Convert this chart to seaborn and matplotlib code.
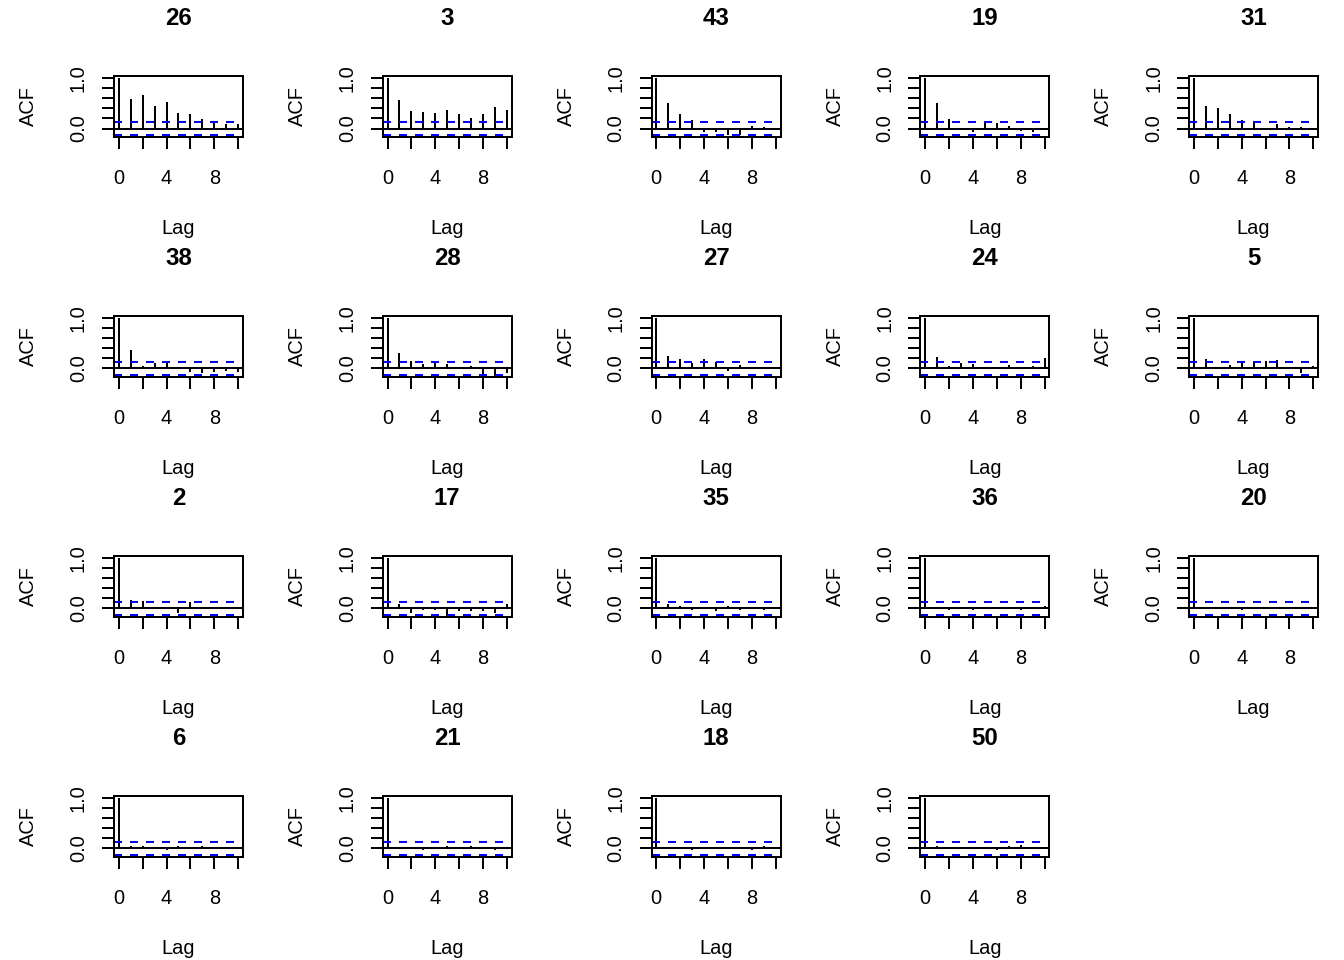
import pandas as pd
import matplotlib.pyplot as plt
import seaborn as sns

# Datos: autocorrelaciones por serie (lag 0..10)
lags = list(range(11))
limite_ic = 0.135

orden_paneles = ["26", "3", "43", "19", "31", "38", "28", "27", "24", "5",
                 "2", "17", "35", "36", "20", "6", "21", "18", "50"]

acf_26 = [1.0, 0.59, 0.66, 0.44, 0.52, 0.31, 0.29, 0.19, 0.10, 0.09, 0.09]
acf_3 = [1.0, 0.56, 0.34, 0.32, 0.31, 0.36, 0.29, 0.21, 0.29, 0.42, 0.36]
acf_43 = [1.0, 0.50, 0.29, 0.17, -0.06, -0.06, -0.12, -0.12, 0.05, 0.03, 0.01]
acf_19 = [1.0, 0.50, 0.19, 0.0, -0.06, 0.13, 0.11, 0.05, -0.04, -0.06, 0.0]
acf_31 = [1.0, 0.44, 0.40, 0.29, 0.17, 0.11, 0.0, 0.09, 0.03, 0.03, 0.0]
acf_38 = [1.0, 0.36, 0.05, 0.11, 0.13, 0.0, -0.06, -0.08, -0.06, -0.04, -0.06]
acf_28 = [1.0, 0.31, 0.15, 0.09, 0.11, 0.09, 0.03, 0.05, -0.10, -0.14, -0.08]
acf_27 = [1.0, 0.25, 0.19, 0.11, 0.19, 0.13, -0.04, 0.07, 0.03, 0.0, 0.03]
acf_24 = [1.0, 0.23, 0.05, 0.11, 0.09, 0.0, 0.0, 0.07, 0.0, 0.05, 0.21]
acf_5 = [1.0, 0.19, 0.03, 0.07, 0.11, 0.13, 0.15, 0.17, 0.0, -0.08, 0.05]
acf_2 = [1.0, 0.17, 0.15, 0.03, 0.0, -0.08, 0.13, 0.0, 0.0, 0.0, 0.03]
acf_17 = [1.0, 0.09, -0.08, -0.04, -0.04, -0.14, -0.06, -0.06, -0.06, -0.08, 0.09]
acf_35 = [1.0, 0.08, 0.05, -0.04, 0.03, -0.05, 0.04, -0.04, 0.03, -0.03, 0.02]
acf_36 = [1.0, 0.03, -0.03, 0.02, -0.04, 0.03, -0.02, 0.02, -0.03, 0.02, 0.04]
acf_20 = [1.0, 0.03, -0.02, 0.02, -0.03, 0.02, -0.02, 0.03, -0.02, 0.02, 0.02]
acf_6 = [1.0, 0.05, 0.04, 0.03, -0.03, 0.05, 0.02, 0.05, -0.02, 0.03, 0.02]
acf_21 = [1.0, 0.02, 0.03, -0.03, 0.02, 0.04, -0.02, 0.05, 0.02, -0.03, 0.02]
acf_18 = [1.0, 0.03, 0.02, -0.03, 0.02, -0.02, 0.03, 0.02, -0.03, 0.05, 0.02]
acf_50 = [1.0, 0.04, 0.03, -0.02, 0.03, 0.02, -0.03, 0.05, 0.06, -0.02, 0.03]

valores = {"26": acf_26, "3": acf_3, "43": acf_43, "19": acf_19, "31": acf_31,
           "38": acf_38, "28": acf_28, "27": acf_27, "24": acf_24, "5": acf_5,
           "2": acf_2, "17": acf_17, "35": acf_35, "36": acf_36, "20": acf_20,
           "6": acf_6, "21": acf_21, "18": acf_18, "50": acf_50}

filas = []
for serie in orden_paneles:
    for lag, v in zip(lags, valores[serie]):
        filas.append({"serie": serie, "lag": lag, "acf": v})
df = pd.DataFrame(filas)

sns.set_theme(style="white")
plt.rcParams["font.family"] = ["Liberation Sans", "DejaVu Sans"]
plt.rcParams["axes.edgecolor"] = "black"
plt.rcParams["axes.linewidth"] = 1.5
plt.rcParams["text.color"] = "black"
plt.rcParams["axes.labelcolor"] = "black"
plt.rcParams["axes.titlecolor"] = "black"
plt.rcParams["xtick.color"] = "black"
plt.rcParams["ytick.color"] = "black"


def dibujar_acf(data, **kws):
    ax = plt.gca()
    ax.vlines(data["lag"], 0, data["acf"], color="black", lw=1.5)
    ax.axhline(0, color="black", lw=1.5)
    ax.axhline(limite_ic, color="blue", lw=1.5, ls=(0, (4, 4)))
    ax.axhline(-limite_ic, color="blue", lw=1.5, ls=(0, (4, 4)))


g = sns.FacetGrid(df, col="serie", col_wrap=5, col_order=orden_paneles,
                  sharex=False, sharey=False, despine=False, height=2, aspect=1.4)
g.map_dataframe(dibujar_acf)

for ax, serie in zip(g.axes.flat, orden_paneles):
    ax.set_xlim(-0.4, 10.4)
    ax.set_ylim(-0.175, 1.045)
    ax.set_xticks([0, 2, 4, 6, 8, 10])
    ax.set_xticklabels(["0", "", "4", "", "8", ""], fontsize=15)
    ax.set_yticks([0, 0.2, 0.4, 0.6, 0.8, 1.0])
    ax.set_yticklabels(["0.0", "", "", "", "", "1.0"], fontsize=15,
                       rotation=90, va="center")
    ax.tick_params(axis="x", direction="out", length=9, width=1.5, pad=15,
                   bottom=True, colors="black")
    ax.tick_params(axis="y", direction="out", length=9, width=1.5, pad=10.5,
                   left=True, colors="black")
    ax.set_title(serie, fontsize=18, fontweight="bold", pad=38, color="black")
    ax.set_xlabel("Lag", fontsize=15, labelpad=23, color="black")
    ax.set_ylabel("ACF", fontsize=15, labelpad=23, color="black")
    for s in ax.spines.values():
        s.set_color("black")
        s.set_linewidth(1.5)

fig = g.figure
fig.set_size_inches(14, 10)
fig.subplots_adjust(left=0.0848, right=0.9807, top=0.9211, bottom=0.107,
                    wspace=1.084, hspace=2.896)
fig.savefig("out.png", dpi=96, facecolor="white")
